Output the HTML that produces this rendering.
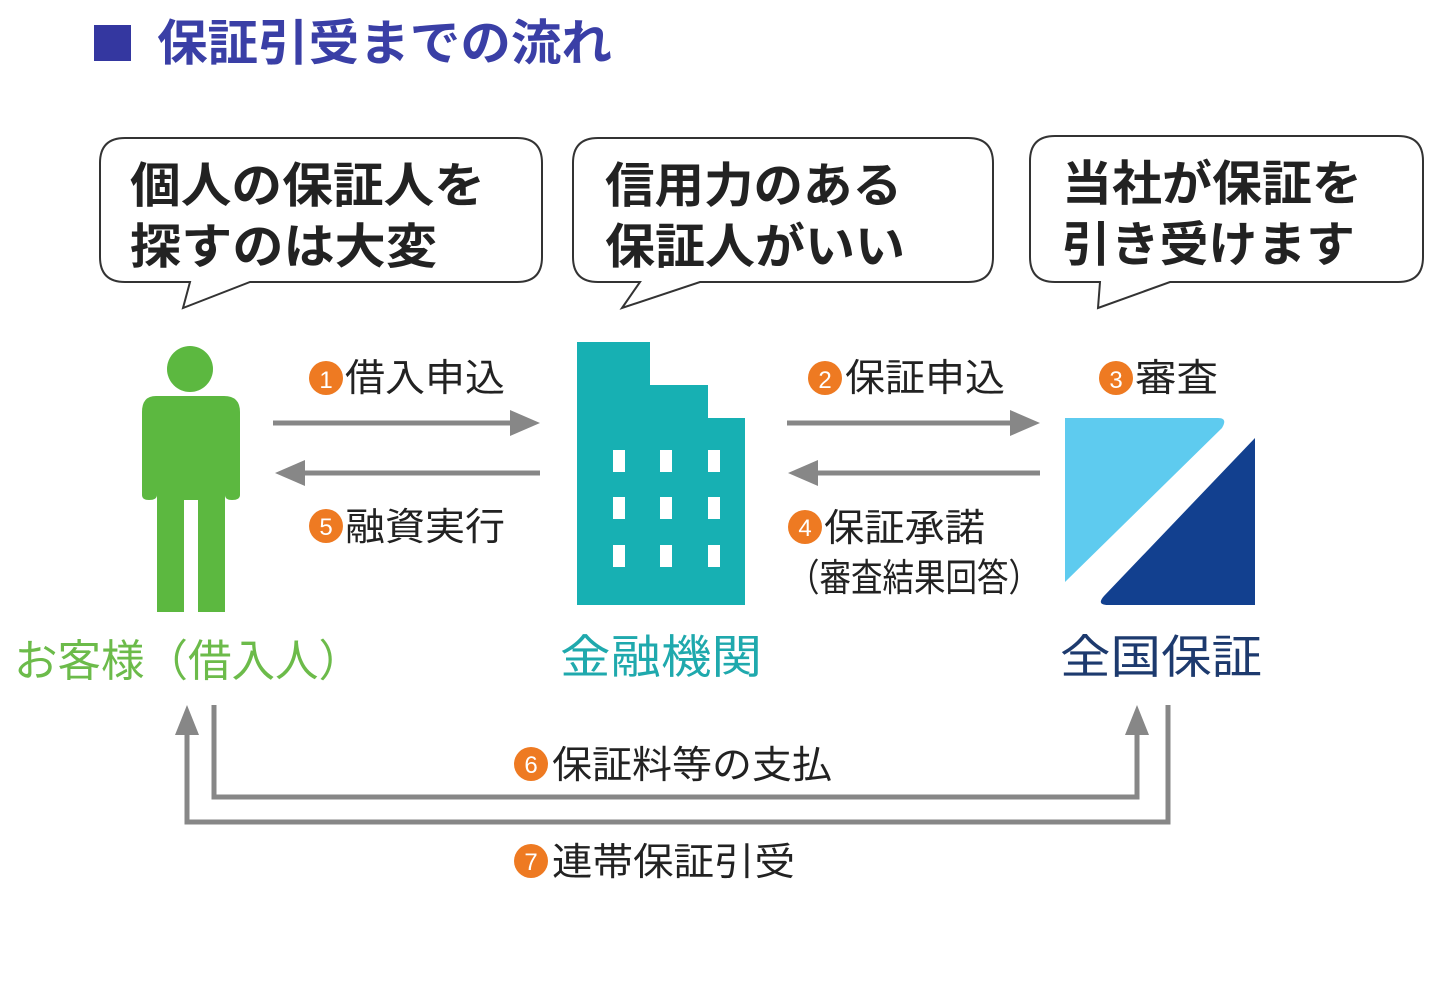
<!DOCTYPE html>
<html><head><meta charset="utf-8"><style>
html,body{margin:0;padding:0;background:#fff;}
svg{display:block;}
text{font-family:"Liberation Sans","Noto Sans CJK JP",sans-serif;}
</style></head><body>
<svg width="1440" height="981" viewBox="0 0 1440 981" xmlns="http://www.w3.org/2000/svg">
<rect x="0" y="0" width="1440" height="981" fill="#fff"/>
<!-- title -->
<rect x="94" y="25" width="37" height="36" fill="#3437a0"/>
<text x="157" y="60" font-size="49" font-weight="bold" fill="#3a3fa6" textLength="455" lengthAdjust="spacingAndGlyphs">保証引受までの流れ</text>
<!-- bubbles -->
<g fill="#fff" stroke="#333" stroke-width="2">
<path d="M125,138 H517 Q542,138 542,163 V257 Q542,282 517,282 H250 L183,308 L190,282 H125 Q100,282 100,257 V163 Q100,138 125,138 Z"/>
<path d="M598,138 H968 Q993,138 993,163 V257 Q993,282 968,282 H700 L622,308 L640,282 H598 Q573,282 573,257 V163 Q573,138 598,138 Z"/>
<path d="M1055,136 H1398 Q1423,136 1423,161 V257 Q1423,282 1398,282 H1170 L1098,308 L1100,282 H1055 Q1030,282 1030,257 V161 Q1030,136 1055,136 Z"/>
</g>
<g font-size="48" font-weight="bold" fill="#222" lengthAdjust="spacingAndGlyphs">
<text x="130" y="202" textLength="355" lengthAdjust="spacingAndGlyphs">個人の保証人を</text>
<text x="130" y="263" textLength="307" lengthAdjust="spacingAndGlyphs">探すのは大変</text>
<text x="605" y="202" textLength="297" lengthAdjust="spacingAndGlyphs">信用力のある</text>
<text x="605" y="263" textLength="300" lengthAdjust="spacingAndGlyphs">保証人がいい</text>
<text x="1062" y="200" textLength="300" lengthAdjust="spacingAndGlyphs">当社が保証を</text>
<text x="1062" y="261" textLength="293" lengthAdjust="spacingAndGlyphs">引き受けます</text>
</g>
<!-- person -->
<g fill="#5cb840">
<circle cx="190" cy="369" r="23"/>
<path d="M156,396 H224 Q240,396 240,412 V495 Q240,500 232,500 Q225,500 225,495 V612 H198 V500 H184 V612 H157 V495 Q157,500 149,500 Q142,500 142,495 V412 Q142,396 156,396 Z"/>
</g>
<text x="14" y="676" font-size="44" fill="#6cbb4a" textLength="348" lengthAdjust="spacingAndGlyphs">お客様（借入人）</text>
<!-- building -->
<path d="M577,342 H650 V385 H708 V418 H745 V605 H577 Z" fill="#17b0b3"/>
<g fill="#fff">
<rect x="613" y="450" width="12" height="22"/><rect x="660" y="450" width="12" height="22"/><rect x="708" y="450" width="12" height="22"/>
<rect x="613" y="497" width="12" height="22"/><rect x="660" y="497" width="12" height="22"/><rect x="708" y="497" width="12" height="22"/>
<rect x="613" y="545" width="12" height="22"/><rect x="660" y="545" width="12" height="22"/><rect x="708" y="545" width="12" height="22"/>
</g>
<text x="560" y="673" font-size="46" fill="#1fa9ad" textLength="202" lengthAdjust="spacingAndGlyphs">金融機関</text>
<!-- logo -->
<path d="M1065,418 H1218 Q1228,418 1222,428 L1065,582 Z" fill="#5ecbef"/>
<path d="M1255,438 V605 H1108 Q1096,605 1104,596 Z" fill="#12408f"/>
<text x="1060" y="673" font-size="46" fill="#1d3a6e" textLength="202" lengthAdjust="spacingAndGlyphs">全国保証</text>
<!-- arrows -->
<g stroke="#878787" stroke-width="5" fill="none">
<line x1="273" y1="423" x2="515" y2="423"/>
<line x1="300" y1="473" x2="540" y2="473"/>
<line x1="787" y1="423" x2="1015" y2="423"/>
<line x1="815" y1="473" x2="1040" y2="473"/>
<polyline points="214,705 214,797 1137,797 1137,730"/>
<polyline points="1168,705 1168,822 187,822 187,730"/>
</g>
<g fill="#878787">
<polygon points="540,423 510,410 510,436"/>
<polygon points="275,473 305,460 305,486"/>
<polygon points="1040,423 1010,410 1010,436"/>
<polygon points="788,473 818,460 818,486"/>
<polygon points="187,705 175,735 199,735"/>
<polygon points="1137,705 1125,735 1149,735"/>
</g>
<!-- labels -->
<g font-size="38" fill="#222">
<g><circle cx="326" cy="378" r="17" fill="#ee7a22"/><text x="326" y="388" font-size="24" fill="#fff" text-anchor="middle">1</text><text x="345" y="391" textLength="160" lengthAdjust="spacingAndGlyphs">借入申込</text></g>
<g><circle cx="326" cy="526" r="17" fill="#ee7a22"/><text x="326" y="535" font-size="24" fill="#fff" text-anchor="middle">5</text><text x="345" y="540" textLength="160" lengthAdjust="spacingAndGlyphs">融資実行</text></g>
<g><circle cx="825" cy="378" r="17" fill="#ee7a22"/><text x="825" y="388" font-size="24" fill="#fff" text-anchor="middle">2</text><text x="845" y="391" textLength="160" lengthAdjust="spacingAndGlyphs">保証申込</text></g>
<g><circle cx="1116" cy="378" r="17" fill="#ee7a22"/><text x="1116" y="388" font-size="24" fill="#fff" text-anchor="middle">3</text><text x="1135" y="391" textLength="83" lengthAdjust="spacingAndGlyphs">審査</text></g>
<g><circle cx="805" cy="527" r="17" fill="#ee7a22"/><text x="805" y="536" font-size="24" fill="#fff" text-anchor="middle">4</text><text x="824" y="541" textLength="161" lengthAdjust="spacingAndGlyphs">保証承諾</text></g>
<text x="788" y="591" textLength="252" lengthAdjust="spacingAndGlyphs">（審査結果回答）</text>
<g><circle cx="531" cy="764" r="17" fill="#ee7a22"/><text x="531" y="773" font-size="24" fill="#fff" text-anchor="middle">6</text><text x="552" y="778" textLength="280" lengthAdjust="spacingAndGlyphs">保証料等の支払</text></g>
<g><circle cx="531" cy="861" r="17" fill="#ee7a22"/><text x="531" y="870" font-size="24" fill="#fff" text-anchor="middle">7</text><text x="552" y="875" textLength="243" lengthAdjust="spacingAndGlyphs">連帯保証引受</text></g>
</g>
</svg>
</body></html>
